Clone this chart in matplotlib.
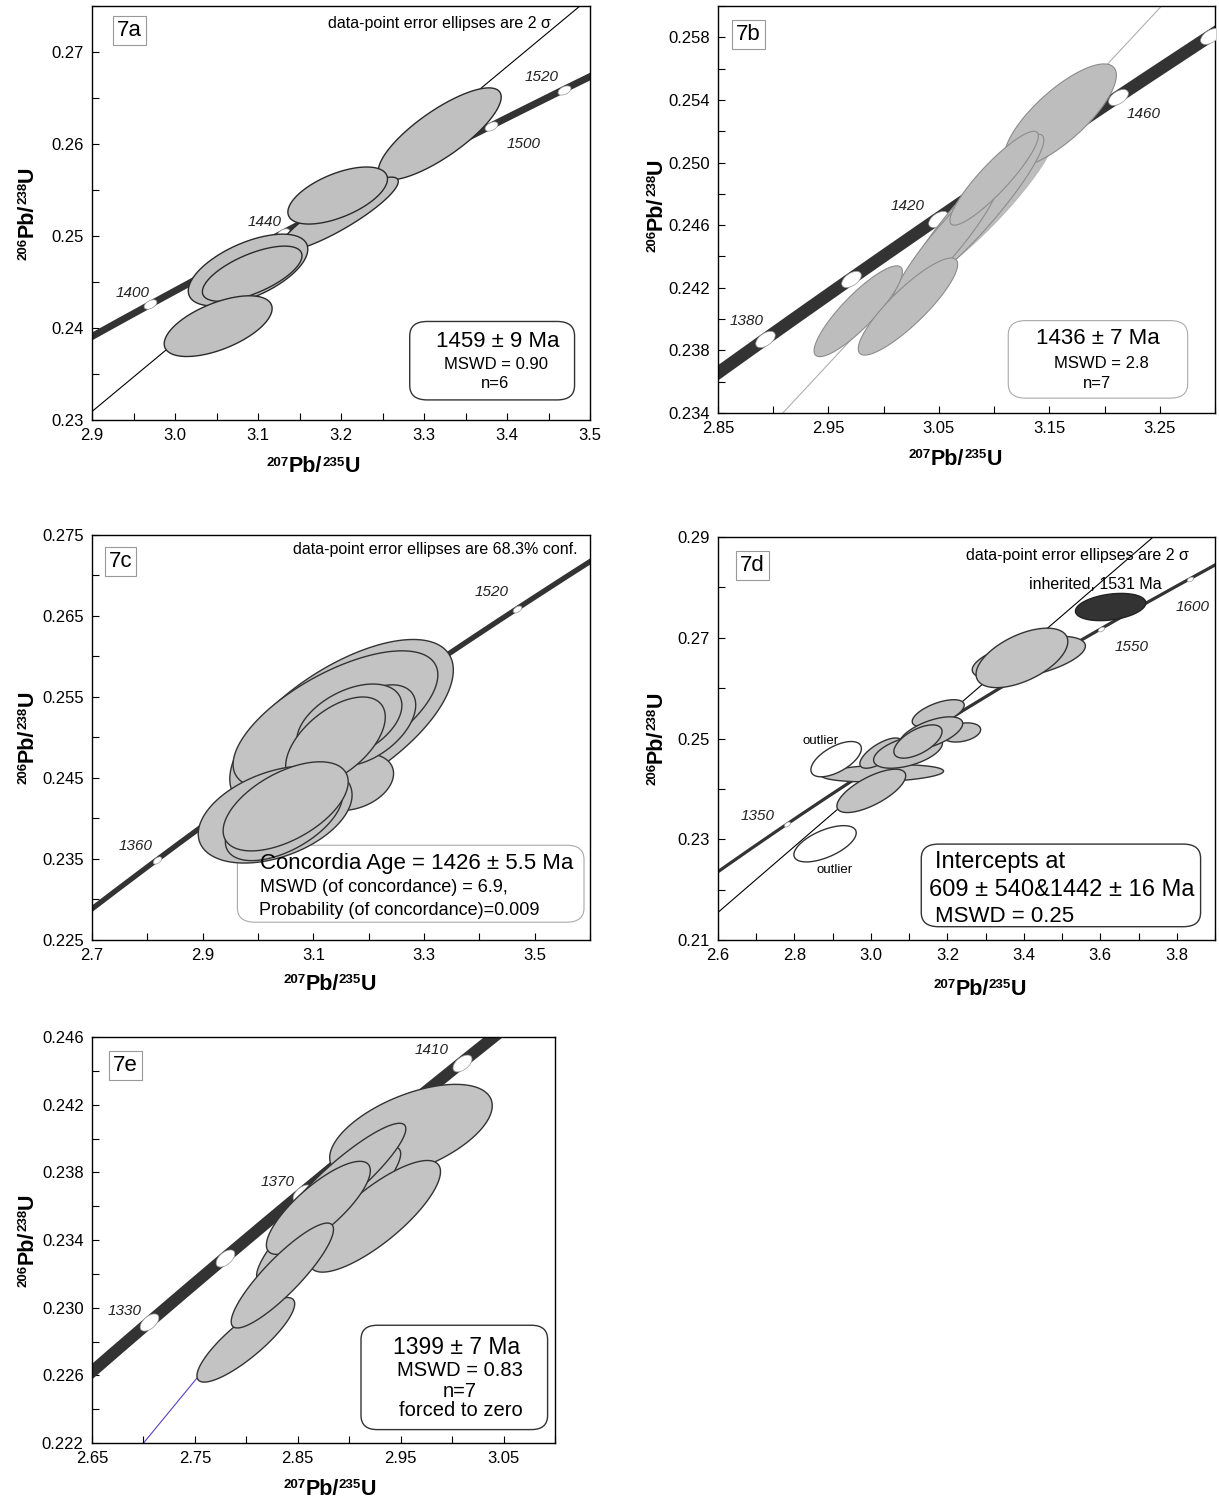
import numpy as np
import matplotlib
matplotlib.use("Agg")
import matplotlib.pyplot as plt
from matplotlib.patches import FancyBboxPatch
from matplotlib.markers import MarkerStyle
from matplotlib.path import Path
from matplotlib.ticker import MultipleLocator
from matplotlib.transforms import Affine2D

plt.rcParams['font.family'] = ['Liberation Sans', 'DejaVu Sans']

# decay constants, 1/Ma
L238 = 1.55125e-4
L235 = 9.8485e-4

# ellipses: (207Pb/235U, err, 206Pb/238U, err, rho)
#------ 7a
A_ELL = [(3.319, 0.074, 0.2611, 0.0050, 0.80),
         (3.198, 0.071, 0.2524, 0.0040, 0.88),
         (3.088, 0.072, 0.2463, 0.0039, 0.58),
         (3.093, 0.060, 0.2459, 0.0030, 0.65),
         (3.052, 0.065, 0.2402, 0.0033, 0.58),
         (3.196, 0.060, 0.2544, 0.0031, 0.58)]
A_AGES = [1400, 1420, 1440, 1460, 1480, 1500, 1520]
A_LABELED = [1400, 1440, 1500, 1520]
A_INTERCEPTS = [176, 1459]
A_RESULT = ["1459 ± 9 Ma", "MSWD = 0.90", "n=6"]
#------ 7b
B_ELL = [(3.092, 0.062, 0.2472, 0.0046, 0.93),
         (3.160, 0.0507, 0.2530, 0.0033, 0.78),
         (3.082, 0.063, 0.2468, 0.0050, 0.93),
         (3.056, 0.048, 0.2449, 0.0040, 0.93),
         (3.100, 0.040, 0.2490, 0.0030, 0.90),
         (2.977, 0.040, 0.2405, 0.0029, 0.87),
         (3.022, 0.045, 0.2408, 0.0031, 0.87)]
B_AGES = [1380, 1400, 1420, 1440, 1460, 1480]
B_LABELED = [1380, 1420, 1460]
B_INTERCEPTS = [178, 1436]
B_RESULT = ["1436 ± 7 Ma", "MSWD = 2.8", "n=7"]
#------ 7c
C_ELL = [(3.151, 0.202, 0.2516, 0.0105, 0.64),
         (3.174, 0.071, 0.2445, 0.0035, 0.30),
         (3.140, 0.185, 0.2522, 0.0085, 0.65),
         (3.200, 0.085, 0.2515, 0.0050, 0.50),
         (3.165, 0.095, 0.2518, 0.0048, 0.45),
         (3.140, 0.090, 0.2495, 0.0055, 0.55),
         (3.031, 0.139, 0.2405, 0.0060, 0.40),
         (3.047, 0.106, 0.2400, 0.0052, 0.55),
         (3.050, 0.113, 0.2415, 0.0055, 0.55)]
C_AGES = [1360, 1400, 1440, 1480, 1520]
C_LABELED = [1360, 1520]
C_RESULT = ["Concordia Age = 1426 ± 5.5 Ma", "MSWD (of concordance) = 6.9,",
            "Probability (of concordance)=0.009"]
#------ 7d
D_ELL = [(3.413, 0.148, 0.2660, 0.0043, 0.55),
         (3.395, 0.120, 0.2660, 0.0059, 0.55),
         (3.030, 0.160, 0.2431, 0.0017, 0.25),
         (3.237, 0.050, 0.2512, 0.0019, 0.30),
         (3.001, 0.090, 0.2396, 0.0043, 0.70),
         (3.026, 0.055, 0.2471, 0.0030, 0.70),
         (3.097, 0.090, 0.2474, 0.0033, 0.50),
         (3.176, 0.068, 0.2550, 0.0027, 0.60),
         (3.157, 0.083, 0.2510, 0.0033, 0.60),
         (3.123, 0.063, 0.2494, 0.0033, 0.60)]
D_OUTLIERS = [(2.909, 0.066, 0.2459, 0.0035, 0.60),
              (2.880, 0.0815, 0.2291, 0.0036, 0.60)]
D_INHERITED = [(3.627, 0.092, 0.2761, 0.0027, 0.30)]
D_AGES = [1350, 1400, 1450, 1500, 1550, 1600]
D_LABELED = [1350, 1550, 1600]
D_INTERCEPTS = [609, 1442]
D_RESULT = ["Intercepts at", "609 ± 540&1442 ± 16 Ma", "MSWD = 0.25"]
#------ 7e
E_ELL = [(2.960, 0.079, 0.2404, 0.0028, 0.55),
         (2.880, 0.070, 0.2355, 0.0040, 0.90),
         (2.925, 0.0637, 0.2354, 0.0033, 0.80),
         (2.894, 0.061, 0.2376, 0.0033, 0.90),
         (2.870, 0.0505, 0.2359, 0.00275, 0.80),
         (2.7995, 0.0475, 0.2281, 0.0025, 0.85),
         (2.835, 0.0497, 0.2319, 0.0031, 0.88)]
E_AGES = [1330, 1350, 1370, 1390, 1410]
E_LABELED = [1330, 1370, 1410]
E_INTERCEPTS = [300, 1406]
E_RESULT = ["1399 ± 7 Ma", "MSWD = 0.83", "n=7", "forced to zero"]

XLAB = [('207', True), ('Pb/', False), ('235', True), ('U', False)]
YLAB = [('206', True), ('Pb/', False), ('238', True), ('U', False)]

fig = plt.figure(figsize=(12.19, 15.08), dpi=100)
R = fig.canvas.get_renderer()

th = np.linspace(0, 2*np.pi, 40)
EPATH = Path(np.column_stack([np.cos(th), 0.55*np.sin(th)]), closed=True)


def conc(t):
    t = np.asarray(t, dtype=float)
    return np.expm1(L235*t), np.expm1(L238*t)


def setup(ax, xlim, ylim, xt, yt, xminor, yminor, xfmt, yfmt):
    ax.set_xlim(xlim)
    ax.set_ylim(ylim)
    ax.set_xticks(xt)
    ax.set_xticklabels([xfmt % v for v in xt])
    ax.set_yticks(yt)
    ax.set_yticklabels([yfmt % v for v in yt])
    ax.xaxis.set_minor_locator(MultipleLocator(xminor))
    ax.yaxis.set_minor_locator(MultipleLocator(yminor))
    ax.tick_params(which='both', direction='in', length=5, width=0.8,
                   top=False, right=False, labelsize=12, pad=6)
    for s in ax.spines.values():
        s.set_linewidth(1.0)


def iso_label(ax, parts, pos, off, vertical):
    # bold label with small raised mass numbers
    big, small, rise = 15.5, 9.5, 6.5
    items = []
    total = 0
    for s, sup in parts:
        t = ax.text(pos[0], pos[1], s, fontsize=small if sup else big, fontweight='bold',
                    rotation=90 if vertical else 0, rotation_mode='anchor',
                    ha='left', va='baseline', transform=ax.transAxes)
        bb = t.get_window_extent(R)
        w = bb.height if vertical else bb.width
        items.append((t, sup, w))
        total += w
    o = -total/2
    for t, sup, w in items:
        if vertical:
            dx, dy = off - (rise if sup else 0), o
        else:
            dx, dy = o, off + (rise if sup else 0)
        t.set_transform(ax.transAxes + Affine2D().translate(dx, dy))
        o += w


def concordia(ax, lw, ages, msz, labeled, offsets):
    x, y = conc(np.linspace(900, 1800, 900))
    ax.plot(x, y, color='#333333', lw=lw, solid_capstyle='butt', zorder=2)
    for a in ages:
        xa, ya = conc(a)
        p = ax.transData.transform(np.column_stack(conc([a - 1, a + 1])))
        ang = np.degrees(np.arctan2(p[1, 1] - p[0, 1], p[1, 0] - p[0, 0]))
        m = MarkerStyle(EPATH, transform=Affine2D().rotate_deg(ang))
        ax.plot([xa], [ya], marker=m, ms=msz, mfc='white', mec='#999999', mew=0.5,
                ls='none', zorder=3)
    for a, o in zip(labeled, offsets):
        ax.annotate(str(a), conc(a), xytext=o, textcoords='offset points',
                    ha='center', va='center', style='italic', fontsize=11, color='#222222')


def discordia(ax, ages, color, segment=False):
    x, y = conc(ages)
    if segment:
        ax.plot(x, y, color=color, lw=0.8, zorder=1.5)
    else:
        ax.axline((x[0], y[0]), (x[1], y[1]), color=color, lw=0.8, zorder=1.5)


def ellipses(ax, ell, fc, ec, lw):
    t = np.linspace(0, 2*np.pi, 200)
    for (x, sx, y, sy, r) in ell:
        ex = x + sx*np.cos(t)
        ey = y + sy*(r*np.cos(t) + np.sqrt(1 - r*r)*np.sin(t))
        ax.fill(ex, ey, fc=fc, ec=ec, lw=lw, zorder=4)


def result_box(ax, box, lines, where, sizes, ha, ec, lw):
    x0, y0, x1, y1 = box
    ax.add_patch(FancyBboxPatch((x0, y0), x1 - x0, y1 - y0,
                                boxstyle='round,pad=0,rounding_size=0.035',
                                transform=ax.transAxes, fc='white', ec=ec, lw=lw, zorder=3.5))
    for s, (x, y), fs in zip(lines, where, sizes):
        ax.text(x, y, s, transform=ax.transAxes, ha=ha, va='center', fontsize=fs, zorder=7)


def tag(ax, s, x, y):
    ax.text(x, y, s, transform=ax.transAxes, ha='center', va='center', fontsize=16, zorder=7,
            bbox=dict(boxstyle='square,pad=0.18', fc='white', ec='#999999', lw=0.8))


#------------------------------------------ 7a
ax = fig.add_axes([92/1219, 1 - 420/1508, 498/1219, 414/1508])
setup(ax, (2.9, 3.5), (0.23, 0.275), np.arange(2.9, 3.51, 0.1), np.arange(0.23, 0.2751, 0.01),
      0.05, 0.005, '%.1f', '%.2f')
concordia(ax, 5, A_AGES, 10, A_LABELED, [(-13, 8), (-13, 8), (23, -13), (-16, 9)])
discordia(ax, A_INTERCEPTS, 'black')
ellipses(ax, A_ELL, '#c0c0c0', '#2a2a2a', 1.0)
result_box(ax, (0.638, 0.0485, 0.969, 0.238), A_RESULT,
           [(0.815, 0.19), (0.811, 0.133), (0.809, 0.089)], [16, 12, 12], 'center', '#333333', 1.0)
ax.text(0.921, 0.958, "data-point error ellipses are 2 σ", transform=ax.transAxes,
        ha='right', va='center', fontsize=11.5)
tag(ax, '7a', 0.075, 0.94)
iso_label(ax, YLAB, (0, 0.5), -59, True)
iso_label(ax, XLAB, (0.444, 0), -52, False)

#------------------------------------------ 7b
ax = fig.add_axes([718/1219, 1 - 413/1508, 497/1219, 407/1508])
setup(ax, (2.85, 3.30), (0.234, 0.260), np.arange(2.85, 3.26, 0.1), np.arange(0.234, 0.2581, 0.004),
      0.05, 0.002, '%.2f', '%.3f')
discordia(ax, B_INTERCEPTS, '#b0b0b0')
concordia(ax, 9, B_AGES, 16, B_LABELED, [(-13, 13), (-22, 9), (19, -12)])
ellipses(ax, B_ELL[:1], '#bdbdbd', '#b8b8b8', 0.8)
ellipses(ax, B_ELL[1:], '#bdbdbd', '#8c8c8c', 0.8)
result_box(ax, (0.584, 0.0365, 0.945, 0.227), B_RESULT,
           [(0.765, 0.183), (0.771, 0.122), (0.763, 0.073)], [16, 12, 12], 'center', '#aaaaaa', 0.8)
tag(ax, '7b', 0.061, 0.931)
iso_label(ax, YLAB, (0, 0.51), -56, True)
iso_label(ax, XLAB, (0.477, 0), -52, False)

#------------------------------------------ 7c
ax = fig.add_axes([92/1219, 1 - 940/1508, 498/1219, 405/1508])
setup(ax, (2.7, 3.6), (0.225, 0.275), np.arange(2.7, 3.51, 0.2), np.arange(0.225, 0.2751, 0.01),
      0.1, 0.005, '%.1f', '%.3f')
concordia(ax, 3.8, C_AGES, 7, C_LABELED, [(-15, 10), (-18, 12)])
ellipses(ax, C_ELL, '#c3c3c3', '#333333', 1.0)
result_box(ax, (0.292, 0.044, 0.988, 0.234), C_RESULT,
           [(0.338, 0.188), (0.338, 0.129), (0.336, 0.074)], [16, 13, 13], 'left', '#aaaaaa', 0.8)
ax.text(0.976, 0.965, "data-point error ellipses are 68.3% conf.", transform=ax.transAxes,
        ha='right', va='center', fontsize=11.5)
tag(ax, '7c', 0.057, 0.935)
iso_label(ax, YLAB, (0, 0.5), -59, True)
iso_label(ax, XLAB, (0.478, 0), -50, False)

#------------------------------------------ 7d
ax = fig.add_axes([718/1219, 1 - 940/1508, 497/1219, 403/1508])
setup(ax, (2.6, 3.9), (0.21, 0.29), np.arange(2.6, 3.81, 0.2), np.arange(0.21, 0.291, 0.02),
      0.1, 0.01, '%.1f', '%.2f')
discordia(ax, D_INTERCEPTS, 'black')
concordia(ax, 2.3, D_AGES, 5, D_LABELED, [(-21, 6), (22, -13), (2, -20)])
ellipses(ax, D_ELL, '#c3c3c3', '#333333', 1.0)
ellipses(ax, D_INHERITED, '#333333', '#222222', 1.0)
ellipses(ax, D_OUTLIERS, 'white', '#333333', 1.0)
ax.text(2.868, 0.2495, 'outlier', fontsize=9.5, ha='center', va='center', zorder=7)
ax.text(2.904, 0.2238, 'outlier', fontsize=9.5, ha='center', va='center', zorder=7)
ax.text(3.586, 0.2805, 'inherited, 1531 Ma', fontsize=11.5, ha='center', va='center', zorder=7)
result_box(ax, (0.409, 0.033, 0.971, 0.238), D_RESULT,
           [(0.436, 0.193), (0.424, 0.123), (0.436, 0.059)], [17, 17, 16], 'left', '#333333', 1.0)
ax.text(0.948, 0.955, "data-point error ellipses are 2 σ", transform=ax.transAxes,
        ha='right', va='center', fontsize=11.5)
tag(ax, '7d', 0.069, 0.93)
iso_label(ax, YLAB, (0, 0.5), -56, True)
iso_label(ax, XLAB, (0.527, 0), -55, False)

#------------------------------------------ 7e
ax = fig.add_axes([92/1219, 1 - 1443/1508, 463/1219, 406/1508])
setup(ax, (2.65, 3.10), (0.222, 0.246), np.arange(2.65, 3.06, 0.1), np.arange(0.222, 0.2461, 0.004),
      0.05, 0.002, '%.2f', '%.3f')
discordia(ax, E_INTERCEPTS, '#5a3fc0', segment=True)
concordia(ax, 8.5, E_AGES, 16, E_LABELED, [(-18, 8), (-18, 8), (-22, 9)])
ellipses(ax, E_ELL, '#c3c3c3', '#333333', 1.0)
result_box(ax, (0.581, 0.033, 0.984, 0.29), E_RESULT,
           [(0.788, 0.236), (0.795, 0.178), (0.795, 0.128), (0.796, 0.079)],
           [16.5, 14.5, 14.5, 14.5], 'center', '#333333', 1.0)
tag(ax, '7e', 0.072, 0.93)
iso_label(ax, YLAB, (0, 0.5), -59, True)
iso_label(ax, XLAB, (0.514, 0), -52, False)

fig.savefig("out.png", dpi=100)
